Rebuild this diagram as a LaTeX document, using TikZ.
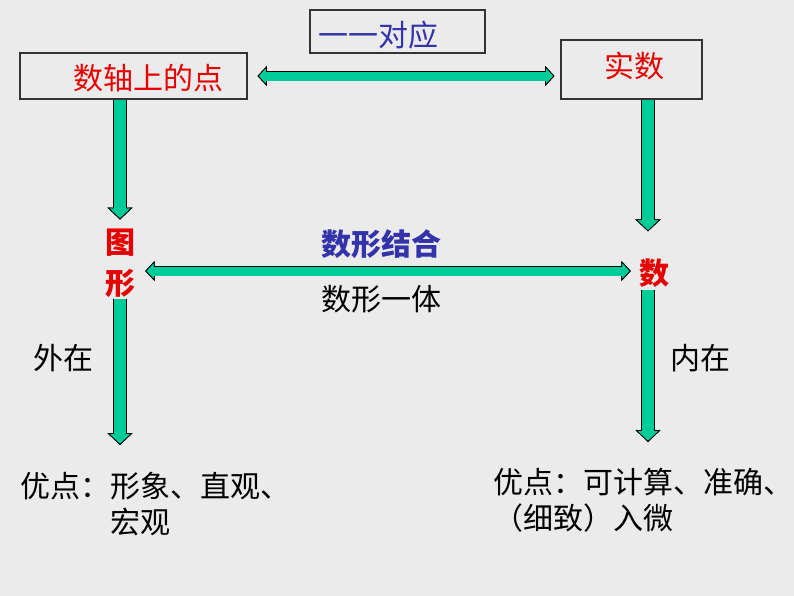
\documentclass[tikz,border=0pt]{standalone}
\usepackage{fontspec}
\setmainfont{Noto Sans CJK SC}
\usetikzlibrary{arrows.meta}
\definecolor{bgray}{HTML}{EBEBEB}
\definecolor{agreen}{HTML}{00CC99}
\definecolor{tblue}{HTML}{3333AA}
\definecolor{tred}{HTML}{E60000}

\tikzset{
  every node/.style={font=\fontsize{22.5}{27}\selectfont, inner sep=0pt},
  box/.style={draw=black!80, line width=0.8pt, fill=bgray},
  tipv/.tip={Triangle[length=9pt,width=19pt,fill=agreen,color=black,line width=.6pt]},
  tiph/.tip={Triangle[length=7pt,width=15pt,fill=agreen,color=black,line width=.6pt]},
  fatv/.style={-tipv, draw=agreen, line width=9pt,
    preaction={draw=black, line width=10.2pt, -tipv},
    postaction={draw=agreen, line width=9pt, -, shorten >=8pt}},
  fath/.style={tiph-tiph, draw=agreen, line width=6.75pt,
    preaction={draw=black, line width=7.95pt, tiph-tiph},
    postaction={draw=agreen, line width=6.75pt, -, shorten >=6pt, shorten <=6pt}},
}

\begin{document}
\begin{tikzpicture}[x=0.75pt, y=-0.75pt]

  \fill[bgray] (0,0) rectangle (794,596);
  \useasboundingbox (0,0) rectangle (794,596);

  % boxes on top
  \node[box, minimum width=131.25pt, minimum height=32.25pt,
        label={[text=tblue, xshift=-13.9pt, yshift=-2.6pt]center:一一对应}] (Match) at (397.5,31.5) {};
  \node[box, minimum width=170.25pt, minimum height=34.5pt,
        label={[text=tred, xshift=10.9pt, yshift=-1.5pt]center:数轴上的点}] (Axis) at (133.5,76) {};
  \node[box, minimum width=105.75pt, minimum height=44.25pt,
        label={[text=tred, xshift=2.6pt, yshift=2.6pt]center:实数}] (Real) at (631.5,69.5) {};

  % the two sides
  \node[text=tred, font=\fontsize{22.5}{30.75}\bfseries\selectfont, align=center] (Shape) at (120,263.5) {图\\形};
  \node[text=tred, font=\fontsize{22.5}{27}\bfseries\selectfont] (Num) at (654,273) {数};

  \node[text=tblue, font=\fontsize{22.5}{27}\bfseries\selectfont] (Join) at (381,244) {数形结合};
  \node (One) at (381,299) {数形一体};

  \node (Out) at (63,358) {外在};
  \node (In) at (700,358) {内在};

  \node[anchor=west, align=left] (ProsL) at (20,504) {优点：形象、直观、\\\hspace*{3em}宏观};
  \node[anchor=west, align=left] (ProsR) at (493,500) {优点：可计算、准确、\\（细致）入微};

  \coordinate (ShapeTop) at ([yshift=7pt]Shape.north);
  \coordinate (ShapeBot) at ([yshift=-1pt]Shape.south);
  \coordinate (NumTop) at ([xshift=-4.5pt, yshift=20.25pt]Num.north);
  \coordinate (NumBot) at ([xshift=-4.5pt, yshift=-2pt]Num.south);

  \draw[fath] ([xshift=7.5pt]Axis.east) -- ([xshift=-4.5pt]Real.west |- Axis.east);
  \draw[fatv] (Axis.south -| Shape) -- (ShapeTop);
  \draw[fatv] (Real.south -| NumTop) -- (NumTop);
  \draw[fath] ([xshift=7.5pt]Shape.east |- 0,271) -- ([xshift=-6pt]Num.west |- 0,271);
  \draw[fatv] (ShapeBot) -- (ShapeBot |- 0,445);
  \draw[fatv] (NumBot) -- (NumBot |- 0,442);

\end{tikzpicture}
\end{document}
